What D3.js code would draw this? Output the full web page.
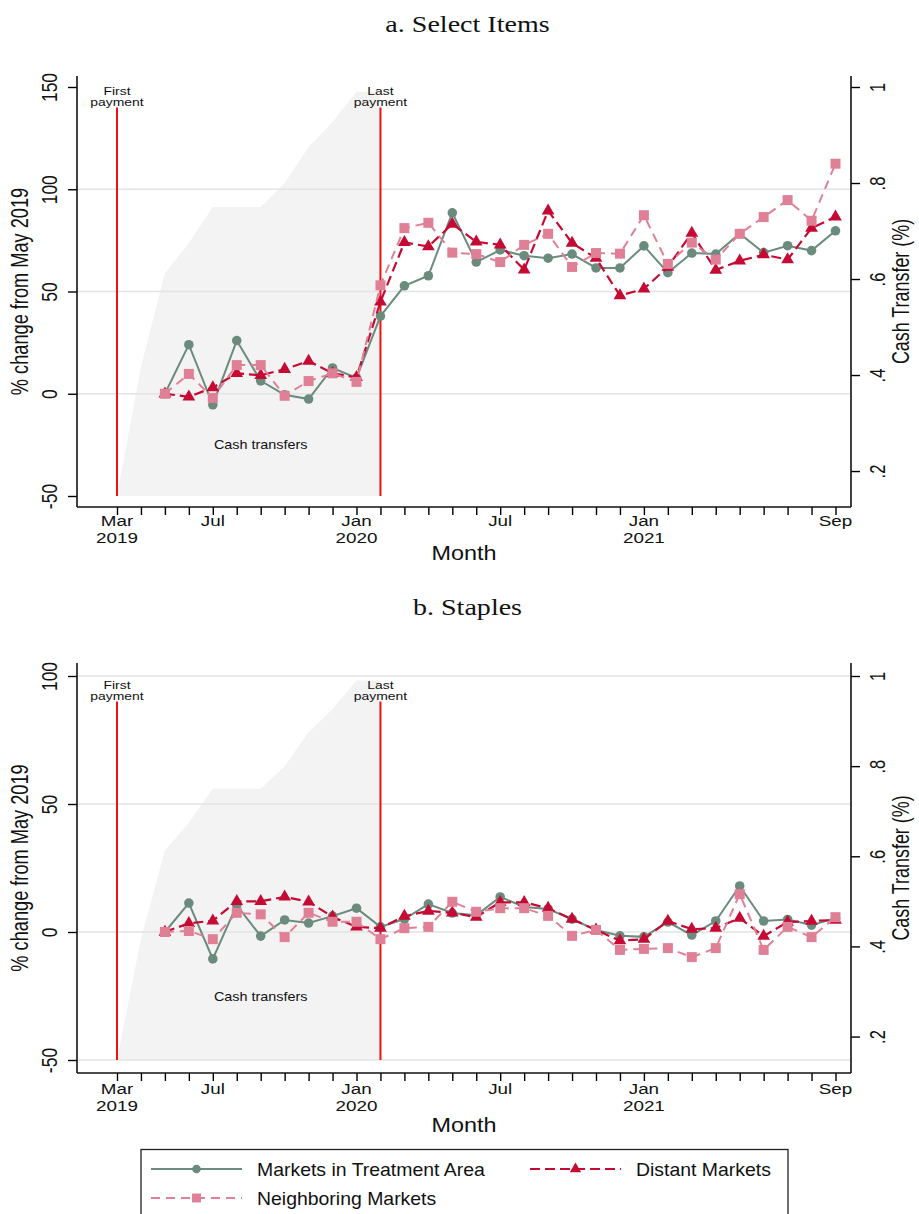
<!DOCTYPE html>
<html>
<head>
<meta charset="utf-8">
<script src="https://cdn.jsdelivr.net/npm/d3@7"></script>
<style>
  body { margin: 0; background: #fff; }
  svg { display: block; }
</style>
</head>
<body>
<svg id="chart" width="919" height="1214"></svg>
<script>
// months on the x axis (Stata %tm style, one tick per month)
var months = ["2019-03", "2019-04", "2019-05", "2019-06", "2019-07", "2019-08", "2019-09", "2019-10",
    "2019-11", "2019-12", "2020-01", "2020-02", "2020-03", "2020-04", "2020-05", "2020-06", "2020-07",
    "2020-08", "2020-09", "2020-10", "2020-11", "2020-12", "2021-01", "2021-02", "2021-03", "2021-04",
    "2021-05", "2021-06", "2021-07", "2021-08", "2021-09"];
var xTickLabels = [["2019-03", "Mar", "2019"], ["2019-07", "Jul"], ["2020-01", "Jan", "2020"],
    ["2020-07", "Jul"], ["2021-01", "Jan", "2021"], ["2021-09", "Sep"]];

// price series start in May 2019
var priceMonths = ["2019-05", "2019-06", "2019-07", "2019-08", "2019-09", "2019-10", "2019-11", "2019-12",
    "2020-01", "2020-02", "2020-03", "2020-04", "2020-05", "2020-06", "2020-07", "2020-08", "2020-09",
    "2020-10", "2020-11", "2020-12", "2021-01", "2021-02", "2021-03", "2021-04", "2021-05", "2021-06",
    "2021-07", "2021-08", "2021-09"];

// a. Select Items
var treatmentItems = [0, 24, -5.4, 26, 6.3, -0.5, -2.6, 12.6, 7.7, 38, 52.8, 57.7, 88.5, 64.4, 70.3, 67.5,
    66.3, 68.3, 61.5, 61.5, 72.3, 59.2, 68.8, 68.3, 78.3, 69, 72.4, 70, 79.7];
var distantItems = [0, -1.5, 3, 10, 9, 12, 16, 10, 8, 45, 74, 72, 83, 74.3, 72.8, 60.6, 89.5, 73.7, 66.3,
    48, 51.3, 62, 78.6, 60.5, 65, 68, 65.6, 81, 86.5];
var neighborItems = [0, 9.7, -2, 14, 14, -1, 6.2, 10, 5.8, 53, 81, 83.6, 69, 68.3, 64.4, 72.8, 78.2, 62,
    68.8, 68.5, 87.3, 63.5, 73.9, 65.6, 78.2, 86.4, 94.7, 84.6, 112.5];

// b. Staples
var treatmentStaples = [0, 11.3, -10.5, 10.5, -1.6, 4.7, 3.5, 6.2, 9.3, 2, 5, 10.9, 7.4, 6.5, 13.7, 9.8,
    9, 5, 0.8, -1.5, -1.9, 3.9, -1.2, 4.3, 18, 4.3, 4.9, 2.7, 5.4];
var distantStaples = [0, 3.4, 4.4, 12, 12, 13.7, 11.8, 5.9, 2, 1.5, 6.2, 8.2, 7.5, 5.8, 11.6, 11.6, 9.3,
    5, 0.8, -3.4, -2.8, 4.3, 1.1, 1.5, 5.4, -1.6, 3.9, 4.3, 4.7];
var neighborStaples = [0, 0.4, -2.8, 7.5, 6.9, -2, 7.5, 4, 4, -2.8, 1.5, 2, 11.8, 7.9, 9.3, 9.3, 6.3,
    -1.5, 0.8, -7, -6.6, -6.3, -9.8, -6.3, 14.8, -7, 2, -2, 5.8];

// share of cash transfers paid out (right axis)
var cashMonths = ["2019-03", "2019-04", "2019-05", "2019-06", "2019-07", "2019-08", "2019-09", "2019-10",
    "2019-11", "2019-12", "2020-01", "2020-02"];
var cashShare = [0.148, 0.417, 0.612, 0.675, 0.75, 0.75, 0.75, 0.80, 0.875, 0.927, 0.99, 0.99];
var cashTicks = [0.2, 0.4, 0.6, 0.8, 1];
var cashTickLabels = [".2", ".4", ".6", ".8", "1"];

var paymentMonths = ["2019-03", "2020-02"];
var paymentLabels = [["First", "payment"], ["Last", "payment"]];

var seriesNames = ["Markets in Treatment Area", "Distant Markets", "Neighboring Markets"];

var seriesStyle = [
    {color: "#6a8b7e", dash: null, symbol: d3.symbolCircle, size: 72, width: 2},
    {color: "#c50a34", dash: "10,5", symbol: d3.symbolTriangle, size: 70, width: 2.2},
    {color: "#e08096", dash: "9,6", symbol: d3.symbolSquare, size: 100, width: 2}
];

var panels = [
    {title: "a. Select Items", titleY: 32, plotTop: 76, axisY: 507, yBottom: 496, yTop: 87, yMax: 150,
        yTicks: [-50, 0, 50, 100, 150], grid: [0, 50, 100], lineTop: 140,
        lab1: 526, lab2: 542.5, monthY: 560,
        series: [treatmentItems, distantItems, neighborItems]},
    {title: "b. Staples", titleY: 615, plotTop: 663, axisY: 1073, yBottom: 1060, yTop: 676, yMax: 100,
        yTicks: [-50, 0, 50, 100], grid: [-50, 0, 50, 100], lineTop: 90,
        lab1: 1093.5, lab2: 1110.5, monthY: 1132,
        series: [treatmentStaples, distantStaples, neighborStaples]}
];

var sans = "'Liberation Sans', Arial, Helvetica, sans-serif";
var serif = "'Liberation Serif', 'Times New Roman', serif";
var leftX = 77, rightX = 851;

var svg = d3.select("#chart");
var x = d3.scalePoint().domain(months).range([117, 835.5]);

// text is a bit wider than tall in the original figure
function addText(g, str, px, py, size, sx, rotate, family) {
    return g.append("text")
        .attr("transform", "translate(" + px + "," + py + ") scale(" + sx + ",1)" + (rotate ? " rotate(-90)" : ""))
        .attr("text-anchor", "middle")
        .style("font-family", family || sans)
        .style("font-size", size + "px")
        .attr("fill", "#111")
        .text(str);
}

panels.forEach(function (p) {
    var g = svg.append("g");
    var y = d3.scaleLinear().domain([-50, p.yMax]).range([p.yBottom, p.yTop]);
    var yR = d3.scaleLinear().domain([d3.min(cashShare), 1]).range([p.yBottom, p.yTop]);

    addText(g, "\u00a0" + p.title, 464, p.titleY, 23, 1.22, false, serif);

    // cash transfer area
    g.append("path")
        .datum(cashShare)
        .attr("d", d3.area()
            .x(function (d, i) { return x(cashMonths[i]); })
            .y0(y(-50))
            .y1(function (d) { return yR(d); }))
        .attr("fill", "#f3f3f3");

    // grid
    g.selectAll(".grid").data(p.grid).enter().append("line")
        .attr("x1", leftX).attr("x2", rightX)
        .attr("y1", function (d) { return y(d); })
        .attr("y2", function (d) { return y(d); })
        .attr("stroke", "#e3e3e3")
        .attr("stroke-width", 1.5);

    // payment markers
    paymentMonths.forEach(function (m, i) {
        g.append("line")
            .attr("x1", x(m)).attr("x2", x(m))
            .attr("y1", y(p.lineTop)).attr("y2", y(-50))
            .attr("stroke", "#f31010")
            .attr("stroke-width", 2);
        addText(g, paymentLabels[i][0], x(m), y(p.lineTop) - 12.5, 10.7, 1.3, false);
        addText(g, paymentLabels[i][1], x(m), y(p.lineTop) - 1.5, 10.7, 1.3, false);
    });

    addText(g, "Cash transfers", x("2019-09"), y(-25) + 4.5, 12, 1.2, false);

    // series
    p.series.forEach(function (vals, s) {
        var st = seriesStyle[s];
        var line = d3.line()
            .x(function (d, i) { return x(priceMonths[i]); })
            .y(function (d) { return y(d); });
        g.append("path")
            .datum(vals)
            .attr("d", line)
            .attr("fill", "none")
            .attr("stroke", st.color)
            .attr("stroke-width", st.width)
            .attr("stroke-dasharray", st.dash);
        g.selectAll(".pt" + s).data(vals).enter().append("path")
            .attr("transform", function (d, i) {
                return "translate(" + x(priceMonths[i]) + "," + y(d) + ")";
            })
            .attr("d", d3.symbol().type(st.symbol).size(st.size))
            .attr("fill", st.color);
    });

    // axes
    var axisL = d3.axisLeft(y).tickValues(p.yTicks).tickSize(9).tickSizeOuter(0)
        .tickFormat(function (d) { return String(d); });
    var gl = g.append("g").attr("transform", "translate(" + leftX + ",0)").call(axisL);
    gl.select(".domain").remove();
    gl.selectAll("line").attr("stroke-width", 1.4);
    gl.selectAll("text")
        .attr("x", null).attr("dy", null)
        .attr("text-anchor", "middle")
        .attr("transform", "translate(-20,0) scale(1.3,1) rotate(-90)")
        .style("font-family", sans).style("font-size", "17.5px").attr("fill", "#111");

    var axisR = d3.axisRight(yR).tickValues(cashTicks).tickSize(9).tickSizeOuter(0)
        .tickFormat(function (d, i) { return cashTickLabels[i]; });
    var gr = g.append("g").attr("transform", "translate(" + rightX + ",0)").call(axisR);
    gr.select(".domain").remove();
    gr.selectAll("line").attr("stroke-width", 1.4);
    gr.selectAll("text")
        .attr("x", null).attr("dy", null)
        .attr("text-anchor", "middle")
        .attr("transform", "translate(34,0) scale(1.3,1) rotate(-90)")
        .style("font-family", sans).style("font-size", "16.5px").attr("fill", "#111");

    var axisB = d3.axisBottom(x).tickSize(8).tickSizeOuter(0).tickFormat("");
    var gb = g.append("g").attr("transform", "translate(0," + p.axisY + ")").call(axisB);
    gb.select(".domain").remove();
    gb.selectAll("line").attr("stroke-width", 1.4);

    [[leftX, p.plotTop, leftX, p.axisY], [rightX, p.plotTop, rightX, p.axisY],
        [leftX, p.axisY, rightX, p.axisY]].forEach(function (c) {
        g.append("line")
            .attr("x1", c[0]).attr("y1", c[1]).attr("x2", c[2]).attr("y2", c[3])
            .attr("stroke", "#111").attr("stroke-width", 1.6);
    });

    xTickLabels.forEach(function (t) {
        addText(g, t[1], x(t[0]), p.lab1, 14.5, 1.3, false);
        if (t[2]) addText(g, t[2], x(t[0]), p.lab2, 14.5, 1.3, false);
    });

    addText(g, "Month", 464, p.monthY, 19.5, 1.2, false);
    var midY = (p.plotTop + p.axisY) / 2;
    addText(g, "% change from May 2019", 28, midY, 18.2, 1.3, true);
    addText(g, "Cash Transfer (%)", 909, midY, 17.9, 1.3, true);
});

// legend
var lg = svg.append("g");
lg.append("rect")
    .attr("x", 141).attr("y", 1149.5).attr("width", 647).attr("height", 90)
    .attr("fill", "none").attr("stroke", "#222").attr("stroke-width", 1.3);

var legendPos = [[151, 1169], [530, 1169], [151, 1198]];
seriesNames.forEach(function (name, s) {
    var st = seriesStyle[s];
    var px = legendPos[s][0], py = legendPos[s][1];
    lg.append("line")
        .attr("x1", px).attr("x2", px + 91).attr("y1", py).attr("y2", py)
        .attr("stroke", st.color).attr("stroke-width", st.width)
        .attr("stroke-dasharray", st.dash);
    lg.append("path")
        .attr("transform", "translate(" + (px + 45.5) + "," + py + ")")
        .attr("d", d3.symbol().type(st.symbol).size(st.size * 0.8))
        .attr("fill", st.color);
    addText(lg, name, px + 106, py + 6.5, 18, 1.08, false).attr("text-anchor", "start");
});
</script>
</body>
</html>
